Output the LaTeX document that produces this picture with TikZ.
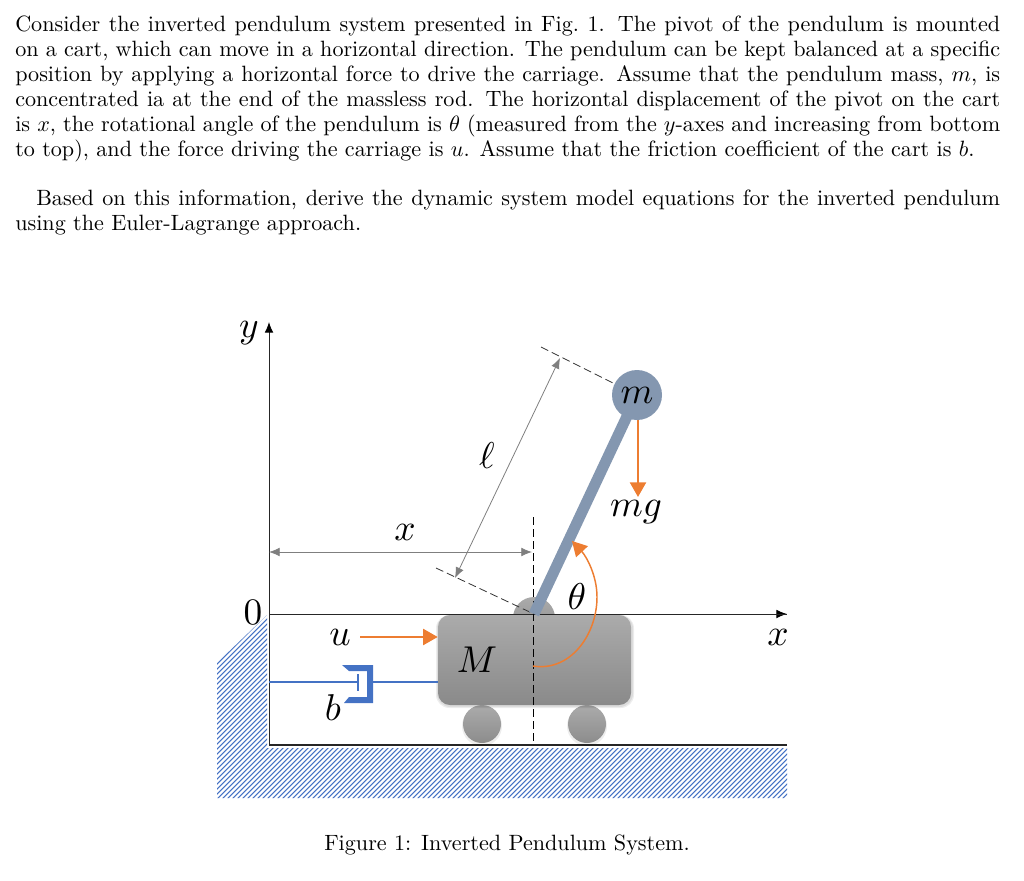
\documentclass[tikz,border=0pt]{standalone}
\usepackage{amsmath}
\usetikzlibrary{arrows.meta,calc}
\definecolor{oran}{HTML}{ED7D31}
\definecolor{blu}{HTML}{4472C4}
\definecolor{slat}{HTML}{8497B0}
\definecolor{dimg}{HTML}{7F7F7F}
\newcommand{\bodyscale}[1]{\scalebox{1.66}{\parbox{445pt}{\fontsize{10}{11.3}\selectfont\setlength{\parindent}{0pt}#1}}}
\newcommand{\capscale}[1]{\scalebox{1.66}{\fontsize{10}{12}\selectfont #1}}
\newcommand{\labm}[1]{\scalebox{2.8}{\fontsize{10}{12}\selectfont $#1$}}
\tikzset{
  bodytext/.style={anchor=north west,inner sep=0pt},
  lab/.style={inner sep=0pt},
  axisline/.style={draw=black!85,line width=0.7pt},
  axisarrow/.style={axisline,-{Latex[length=8pt,width=6.5pt,black]}},
  dimline/.style={draw=dimg,line width=0.6pt,{Latex[length=8pt,width=6.5pt]}-{Latex[length=8pt,width=6.5pt]}},
  dashline/.style={draw=black!80,line width=0.6pt,dash pattern=on 6pt off 3pt},
  force/.style={draw=oran,line width=1.8pt,-{Triangle[length=11pt,width=12pt]}},
  thetaarc/.style={draw=oran,line width=1.1pt,-{Triangle[length=11pt,width=12pt]}},
  damper/.style={draw=blu,line width=0.9pt},
  cartbody/.style={rounded corners=9pt,top color=black!33,bottom color=black!46},
  wheel/.style={circle,minimum size=28.5pt,inner sep=0pt,top color=black!33,bottom color=black!45},
  softshadow/.style={fill=black,opacity=0.07},
}
\begin{document}
\begin{tikzpicture}[x=0.75pt,y=-0.75pt]
\useasboundingbox (0,0) rectangle (1024,881);
% text
\node[bodytext] (p1) at (15,15.5) {\bodyscale{Consider the inverted pendulum system presented in Fig.~1. The pivot of the pendulum is mounted\linebreak
on a cart, which can move in a horizontal direction. The pendulum can be kept balanced at a specific\linebreak
position by applying a horizontal force to drive the carriage. Assume that the pendulum mass, $m$, is\linebreak
concentrated ia at the end of the massless rod. The horizontal displacement of the pivot on the cart\linebreak
is $x$, the rotational angle of the pendulum is $\theta$ (measured from the $y$-axes and increasing from bottom\linebreak
to top), and the force driving the carriage is $u$. Assume that the friction coefficient of the cart is $b$.}};
\node[bodytext] (p2) at (15,189.5) {\bodyscale{\hspace*{9.5pt}Based on this information, derive the dynamic system model equations for the inverted pendulum\linebreak
using the Euler-Lagrange approach.}};
\node[inner sep=0pt] (cap) at (507,845) {\capscale{Figure 1: Inverted Pendulum System.}};
% hatch
\begin{scope}
\clip (217,663) -- (267,615) -- (267,748) -- (787,748) -- (787,798) -- (217,798) -- cycle;
\foreach \k in {831,836,...,1590} {
  \draw[blu,line width=0.8pt] (\k-600,600) -- (\k-800,800);
}
\end{scope}
% coordinates
\coordinate (O) at (269,614);
\coordinate (ytop) at (269,322);
\coordinate (xend) at (787,614);
\coordinate (corner) at (269,745);
\coordinate (floorend) at (787,745);
\coordinate (pivot) at (534,614);
\coordinate (bob) at (637,395);
% axes
\draw[axisarrow] (corner) -- (ytop);
\draw[axisarrow] (O) -- (xend);
\draw[axisline,line width=1pt] (corner) -- (floorend);
% wheels and pivot
\node[wheel,minimum size=31.5pt] (pv) at (534,618) {};
\fill[softshadow] (482,726) circle (20);
\fill[softshadow] (587,726) circle (20);
\node[wheel] (w1) at (482,724) {};
\node[wheel] (w2) at (587,724) {};
% cart
\fill[softshadow,rounded corners=10pt] (436,615) rectangle (634,708);
\fill[softshadow,rounded corners=10pt] (437,615) rectangle (633,707);
\node[cartbody,minimum width=144.75pt,minimum height=67.5pt,inner sep=0pt] (cart) at (534.5,660) {};
\draw[axisline] (O) -- (xend);
% damper
\coordinate (wallb) at (269,682);
\coordinate (plate) at (358,682);
\draw[damper] (wallb) -- (plate);
\draw[damper,line width=1.2pt] (358,674) -- (358,691);
\draw[damper] (373,682) -- (cart.west |- 373,682);
\fill[blu] (342,665) -- (373,665) -- (373,703) -- (344,703) -- (349,697) -- (367,697) -- (367,671) -- (349,671) -- cycle;
% dimension lines
\draw[dimline] (269,552) -- (532,552);
\draw[dimline] (455,578) -- (560,358);
\draw[dashline] (436,568) -- (pivot);
\draw[dashline] (541,347) -- (bob);
\draw[dashline,draw=black,line width=0.6pt] (533,517) -- (533,745);
% pendulum
\draw[slat,line width=8.2pt] (pivot) -- (bob);
\node[circle,fill=slat,minimum size=37.5pt,inner sep=0pt] (mass) at (bob) {};
\node[lab] at (bob) {\labm{m}};
% forces
\draw[force] (638,420) -- (638,497);
\draw[force] (360,637) -- (cart.west |- 360,637);
\draw[thetaarc] (533,666) .. controls (570,672) and (597,635) .. (597,597) .. controls (597,575) and (586,556) .. (572,541);
% labels
\node[lab] (ly) at (249,333) {\labm{y}};
\node[lab] (lx1) at (778,637) {\labm{x}};
\node[lab] (l0) at (253,612) {\labm{0}};
\node[lab] (lu) at (340,637) {\labm{u}};
\node[lab] (lb) at (333,708) {\labm{b}};
\node[lab] (lM) at (477,660) {\labm{M}};
\node[lab] (lmg) at (636,512) {\labm{mg}};
\node[lab] (lth) at (577,597) {\labm{\theta}};
\node[lab] (lx2) at (405,532) {\labm{x}};
\node[lab] (ll) at (487,456) {\labm{\ell}};
\end{tikzpicture}
\end{document}
